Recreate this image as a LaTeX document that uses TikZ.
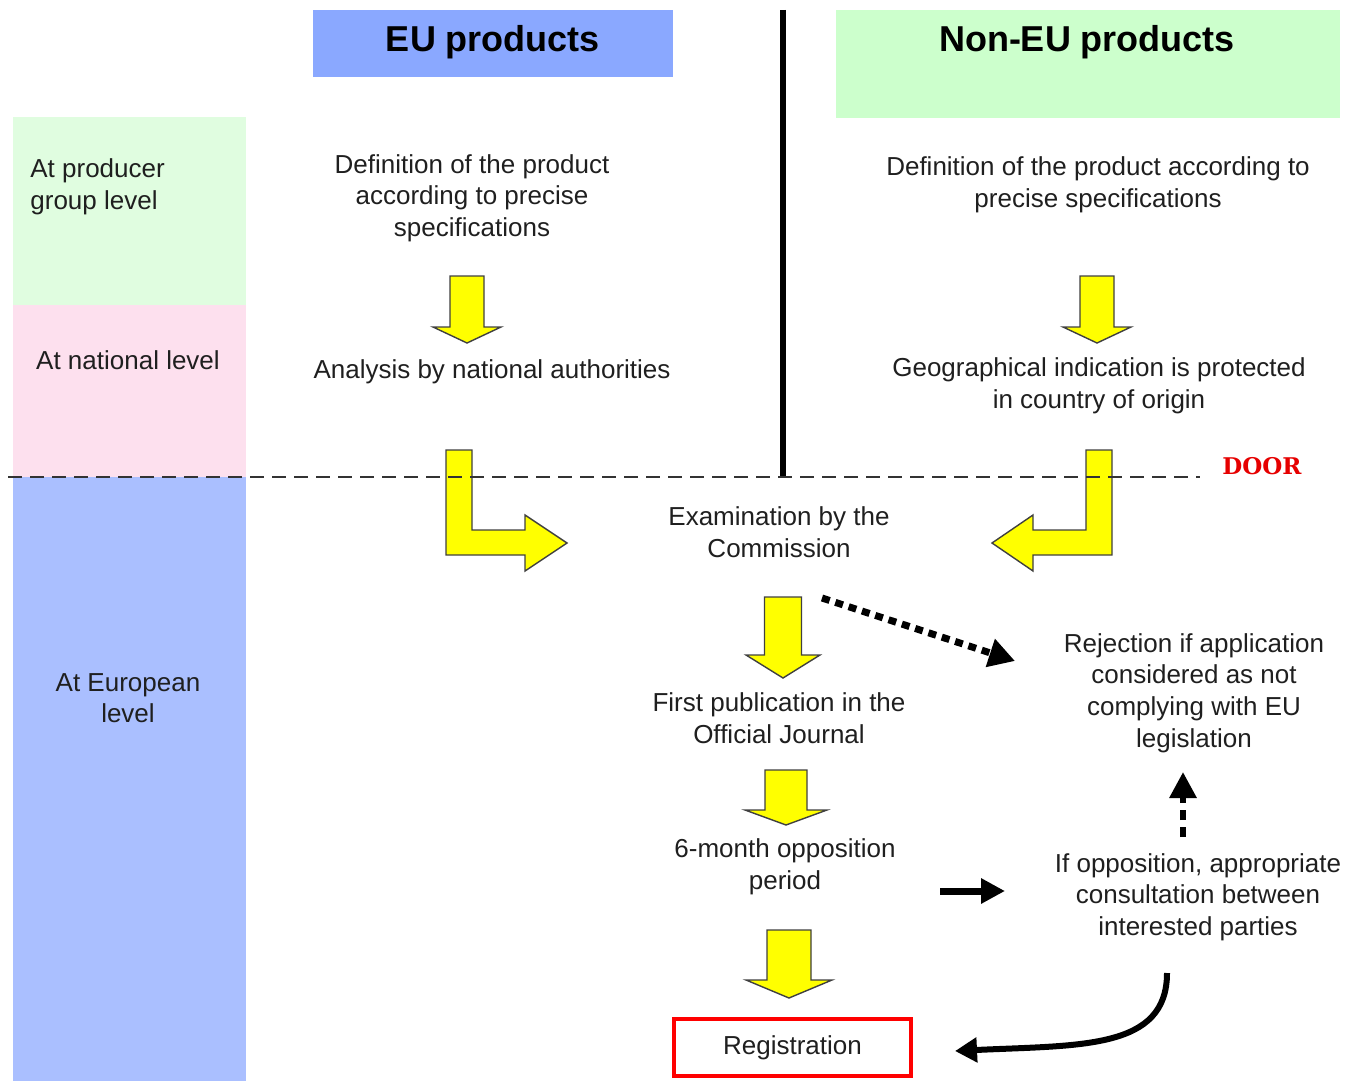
\documentclass[tikz,border=0pt]{standalone}
\usepackage{fontspec}
\setmainfont{Liberation Sans}
\newfontfamily\doorfont{DejaVu Serif}
\usetikzlibrary{arrows.meta}
\definecolor{grnL}{HTML}{E0FDE0}
\definecolor{pnkL}{HTML}{FDE0EE}
\definecolor{bluL}{HTML}{AABFFF}
\definecolor{euH}{HTML}{8AA8FF}
\definecolor{neuH}{HTML}{CCFFCC}
\definecolor{yel}{HTML}{FFFF00}
\definecolor{doorred}{HTML}{E60000}
\newcommand\yarrowdn[6]{%
  \draw[yarrow] (#1-#3,#2) -- (#1+#3,#2) -- (#1+#3,#4) -- (#1+#5,#4) -- (#1,#6) -- (#1-#5,#4) -- (#1-#3,#4) -- cycle;}
\begin{document}
\begin{tikzpicture}[x=0.5pt,y=-0.5pt,
  txt/.style={font=\fontsize{13}{15.8}\selectfont, align=center, inner sep=0pt, text=black!88},
  hdr/.style={font=\fontsize{18}{20}\selectfont\bfseries, inner sep=0pt},
  yarrow/.style={fill=yel, draw=black!75, line width=0.7pt, line join=miter},
  solidarrow/.style={line width=3.5pt, -{Triangle[length=12pt,width=12pt]}},
  dotarrow/.style={line width=3.5pt, dash pattern=on 4pt off 3pt, -{Triangle[length=13pt,width=14pt]}},
  ]
\useasboundingbox (0,0) rectangle (1359,1081);
% bands
\fill[grnL] (13,117) rectangle (246,305);
\fill[pnkL] (13,305) rectangle (246,477);
\fill[bluL] (13,477) rectangle (246,1081);
\fill[euH] (313,10) rectangle (673,77);
\fill[neuH] (836,10) rectangle (1340,118);
% vertical separator
\draw[line width=3pt] (783,10) -- (783,477);
% yellow arrows
\yarrowdn{467}{276}{17}{327}{34}{343}
\yarrowdn{1097}{276}{17}{327}{34}{343}
\yarrowdn{783}{597}{18.5}{655}{37}{678}
\yarrowdn{786}{770}{21}{810}{41}{825}
\yarrowdn{789}{930}{22}{980}{43}{998}
\draw[yarrow] (446,450) -- (472,450) -- (472,530) -- (525,530) -- (525,515) -- (567,543) -- (525,571) -- (525,555) -- (446,555) -- cycle;
\draw[yarrow] (1112,450) -- (1086,450) -- (1086,530) -- (1033,530) -- (1033,515) -- (992,543) -- (1033,571) -- (1033,555) -- (1112,555) -- cycle;
% door line
\draw[line width=1.1pt, black!80, dash pattern=on 7pt off 4pt] (8,477) -- (1200,477);
\node[font=\doorfont\bfseries\fontsize{11.5}{12}\selectfont, text=doorred, inner sep=0pt] (door) at (1262,466) {DOOR};
% headers
\node[hdr] (hEU) at (493,42) {EU products};
\node[hdr] (hNEU) at (1087,42) {Non-EU products};
% level labels
\node[txt, align=left, anchor=west] (prod) at (30,187) {At producer\\group level};
\node[txt] (nat) at (128,360) {At national level};
\node[txt] (eur) at (128,698) {At European\\level};
% flow texts
\node[txt] (defEU) at (472,198) {Definition of the product\\according to precise\\specifications};
\node[txt] (anaEU) at (492,372) {Analysis by national authorities};
\node[txt] (defNE) at (1098,185) {Definition of the product according to\\precise specifications};
\node[txt] (geo) at (1099,386) {Geographical indication is protected\\in country of origin};
\node[txt] (exam) at (779,532) {Examination by the\\Commission};
\node[txt] (pub) at (779,718) {First publication in the\\Official Journal};
\node[txt] (opp) at (785,867) {6-month opposition\\period};
\node[txt, draw=red, line width=2pt, minimum width=118.5pt, minimum height=28.5pt] (reg) at (792.5,1047.5) {Registration};
\node[txt] (rej) at (1194,693) {Rejection if application\\considered as not\\complying with EU\\legislation};
\node[txt] (cons) at (1198,897) {If opposition, appropriate\\consultation between\\interested parties};
% connectors
\coordinate (ex1) at (822,598);
\coordinate (rj1) at (1015,661);
\draw[dotarrow] (ex1) -- (rj1);
\coordinate (op1) at (940,891);
\coordinate (cs1) at (1005,891);
\draw[solidarrow] (op1) -- (cs1);
\coordinate (cs2) at (1183,837);
\coordinate (rj2) at (1183,772);
\draw[line width=3pt, dash pattern=on 5pt off 3.5pt, -{Triangle[length=13pt,width=13pt]}] (cs2) -- (rj2);
\coordinate (cs3) at (1167,973);
\coordinate (rg1) at (955,1051);
\draw[line width=3pt, -{Triangle[length=11pt,width=12pt]}] (cs3) .. controls (1167,1050) and (1080,1045) .. (rg1);
\end{tikzpicture}
\end{document}
